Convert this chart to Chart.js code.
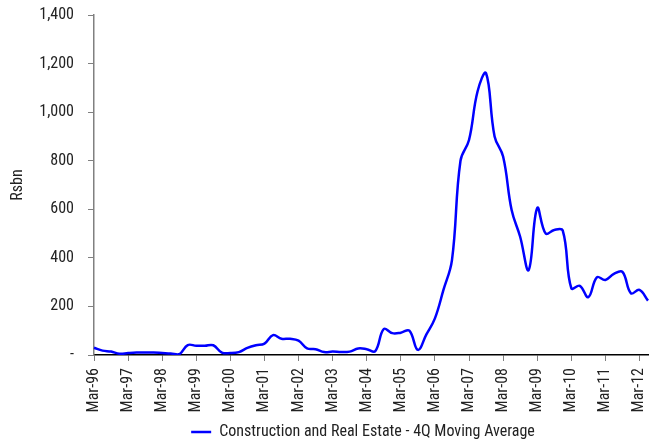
<!DOCTYPE html>
<html>
<head>
<meta charset="utf-8">
<script src="https://cdn.jsdelivr.net/npm/chart.js@4.4.1/dist/chart.umd.min.js"></script>
<style>
  html, body { margin: 0; padding: 0; background: #fff; }
  #wrap { width: 654px; height: 443px; }
</style>
</head>
<body>
<div id="wrap"><canvas id="myChart"></canvas></div>
<script>
// quarterly categories, Mar-96 .. Jun-12
const quarters = [
  "Mar-96", "Jun-96", "Sep-96", "Dec-96",
  "Mar-97", "Jun-97", "Sep-97", "Dec-97",
  "Mar-98", "Jun-98", "Sep-98", "Dec-98",
  "Mar-99", "Jun-99", "Sep-99", "Dec-99",
  "Mar-00", "Jun-00", "Sep-00", "Dec-00",
  "Mar-01", "Jun-01", "Sep-01", "Dec-01",
  "Mar-02", "Jun-02", "Sep-02", "Dec-02",
  "Mar-03", "Jun-03", "Sep-03", "Dec-03",
  "Mar-04", "Jun-04", "Sep-04", "Dec-04",
  "Mar-05", "Jun-05", "Sep-05", "Dec-05",
  "Mar-06", "Jun-06", "Sep-06", "Dec-06",
  "Mar-07", "Jun-07", "Sep-07", "Dec-07",
  "Mar-08", "Jun-08", "Sep-08", "Dec-08",
  "Mar-09", "Jun-09", "Sep-09", "Dec-09",
  "Mar-10", "Jun-10", "Sep-10", "Dec-10",
  "Mar-11", "Jun-11", "Sep-11", "Dec-11",
  "Mar-12", "Jun-12"
];

// Rsbn, 4Q moving average
const constructionRealEstate = [
  30, 18, 14, 5,
  8, 10, 10, 10,
  8, 6, 3, 41,
  38, 38, 40, 10,
  8, 12, 29, 40,
  47, 82, 67, 67,
  59, 27, 24, 12,
  14, 12, 14, 27,
  24, 16, 107, 90,
  92, 100, 21, 85,
  151, 268, 391, 800,
  885, 1085, 1160, 900,
  817, 597, 487, 350,
  605, 500, 515, 512,
  275, 285, 238, 320,
  309, 334, 342, 254,
  268, 224
];

const yTicks = [0, 200, 400, 600, 800, 1000, 1200, 1400];

// condensed Roboto is the closest to the original narrow type
Chart.defaults.font.family = "Roboto, 'DejaVu Sans Condensed', sans-serif";
Chart.defaults.font.weight = "condensed";
Chart.defaults.color = "#222";

// nudge the legend a little left and down, like the original
const legendShift = {
  id: "legendShift",
  afterLayout(chart) {
    chart.legend.left -= 8;
    chart.legend.right -= 8;
    chart.legend.top += 7;
    chart.legend.bottom += 7;
  },
};

new Chart(document.getElementById("myChart"), {
  type: "line",
  data: {
    labels: quarters,
    datasets: [
      {
        label: "Construction and Real Estate - 4Q Moving Average",
        data: constructionRealEstate,
        borderColor: "#0000ff",
        backgroundColor: "#0000ff",
        borderWidth: 2.5,
        pointRadius: 0,
        tension: 0.4,
        fill: false,
      },
    ],
  },
  options: {
    responsive: true,
    maintainAspectRatio: false,
    animation: false,
    layout: { padding: { left: 8, right: 6, top: 0, bottom: 0 } },
    scales: {
      x: {
        type: "category",
        offset: false,
        afterFit: (scale) => {
          scale.paddingRight = 0;
          scale.height = 58;
        },
        grid: {
          display: true,
          drawOnChartArea: false,
          drawTicks: true,
          tickLength: 6,
          tickColor: (ctx) => (ctx.index % 4 === 0 ? "#808080" : "rgba(0,0,0,0)"),
        },
        border: { display: true, color: "#000", width: 1.5 },
        ticks: {
          autoSkip: false,
          minRotation: 90,
          maxRotation: 90,
          padding: 7,
          font: { size: 16, weight: "semi-condensed" },
          callback: function (val, index) {
            return index % 4 === 0 ? this.getLabelForValue(val) : "";
          },
        },
      },
      y: {
        min: 0,
        max: 1400,
        afterBuildTicks: (axis) => {
          axis.ticks = yTicks.map((v) => ({ value: v }));
        },
        afterFit: (scale) => {
          scale.paddingTop = 15;
          scale.paddingBottom = 0;
          scale.width = 86;
        },
        title: {
          display: true,
          text: "Rsbn",
          font: { size: 16 },
          padding: { top: 0, bottom: 2 },
        },
        grid: {
          display: true,
          drawOnChartArea: false,
          drawTicks: true,
          tickLength: 6,
          tickColor: "#808080",
        },
        border: { display: true, color: "#808080", width: 1.5 },
        ticks: {
          padding: 14,
          font: { size: 16 },
          callback: (v) => (v === 0 ? "-" : v.toLocaleString("en-US")),
        },
      },
    },
    plugins: {
      legend: {
        position: "bottom",
        fullSize: false,
        labels: {
          boxWidth: 20,
          boxHeight: 0,
          padding: 4,
          font: { size: 16 },
        },
      },
      tooltip: { enabled: false },
    },
  },
  plugins: [legendShift],
});
</script>
</body>
</html>
